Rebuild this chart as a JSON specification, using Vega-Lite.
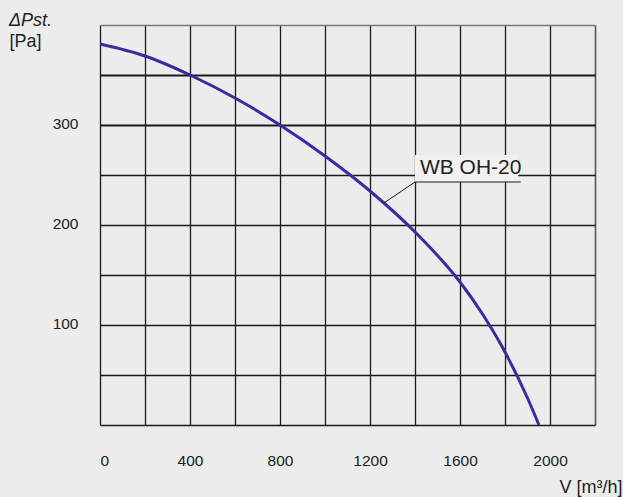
{
  "$schema": "https://vega.github.io/schema/vega-lite/v6.json",
  "autosize": {"type": "none"},
  "width": 495,
  "height": 400,
  "padding": {"left": 100, "top": 25, "right": 28, "bottom": 72},
  "background": "#ececec",
  "config": {
    "view": {"stroke": null},
    "font": "Liberation Sans",
    "axis": {"labelFont": "Liberation Sans", "titleFont": "Liberation Sans", "labelColor": "#222", "titleColor": "#222", "ticks": false, "domain": false}
  },
  "title": {
    "text": "ΔPst.",
    "anchor": "start",
    "frame": "group",
    "orient": "top",
    "dx": -91,
    "offset": -19,
    "baseline": "alphabetic",
    "font": "Liberation Sans",
    "fontSize": 18,
    "fontStyle": "italic",
    "fontWeight": "normal",
    "color": "#222"
  },
  "datasets": {
    "curve": [
      {"x": 0, "y": 381},
      {"x": 200, "y": 369},
      {"x": 400, "y": 350},
      {"x": 600, "y": 327},
      {"x": 800, "y": 300},
      {"x": 1000, "y": 269},
      {"x": 1200, "y": 234},
      {"x": 1400, "y": 193},
      {"x": 1600, "y": 143},
      {"x": 1700, "y": 111},
      {"x": 1800, "y": 73},
      {"x": 1900, "y": 27},
      {"x": 1951, "y": 0}
    ],
    "box": [{"x": 1400, "x2": 1859, "y": 243, "y2": 270}],
    "leader": [
      {"x": 1400, "x2": 1870, "y": 243, "y2": 243},
      {"x": 1400, "x2": 1262, "y": 243, "y2": 222}
    ],
    "label": [{"x": 1422, "y": 251, "text": "WB OH-20"}]
  },
  "encoding": {
    "x": {
      "field": "x",
      "type": "quantitative",
      "scale": {"domain": [0, 2200], "nice": false},
      "axis": {
        "values": [0, 200, 400, 600, 800, 1000, 1200, 1400, 1600, 1800, 2000, 2200],
        "format": "d",
        "labelExpr": "datum.value % 400 == 0 && datum.value <= 2000 ? datum.label : ''",
        "labelFontSize": 15.5,
        "labelPadding": 28,
        "labelAlign": {"condition": {"test": "datum.value == 0", "value": "left"}, "value": "center"},
        "grid": true,
        "gridColor": {"condition": {"test": "datum.value == 2200", "value": "#555"}, "value": "#1a1a1a"},
        "gridWidth": {"condition": {"test": "datum.value == 2200", "value": 1.6}, "value": 1.3},
        "gridOpacity": 1,
        "title": "V [m³/h]",
        "titleFontSize": 18,
        "titleFontWeight": "normal",
        "titleAlign": "right",
        "titleBaseline": "alphabetic",
        "titleX": 522,
        "titleY": 67
      }
    },
    "y": {
      "field": "y",
      "type": "quantitative",
      "scale": {"domain": [0, 400], "nice": false},
      "axis": {
        "values": [0, 50, 100, 150, 200, 250, 300, 350, 400],
        "labelExpr": "datum.value % 100 == 0 && datum.value > 0 && datum.value < 400 ? datum.label : ''",
        "labelFontSize": 15.5,
        "labelPadding": 22,
        "labelOffset": -2,
        "grid": true,
        "gridColor": {"condition": {"test": "datum.value == 400", "value": "#7a7a7a"}, "value": "#1a1a1a"},
        "gridWidth": {"condition": {"test": "datum.value == 300 || datum.value == 350", "value": 2}, "value": 1.3},
        "gridOpacity": 1,
        "title": "[Pa]",
        "titleFontSize": 18,
        "titleFontWeight": "normal",
        "titleAngle": 0,
        "titleAlign": "left",
        "titleBaseline": "alphabetic",
        "titleX": -91,
        "titleY": 21
      }
    }
  },
  "layer": [
    {
      "data": {"name": "curve"},
      "mark": {"type": "line", "color": "#3a2c9e", "strokeWidth": 3, "interpolate": "monotone"}
    },
    {
      "data": {"name": "box"},
      "mark": {"type": "rect", "color": "#f1f1f1", "opacity": 1},
      "encoding": {"x2": {"field": "x2"}, "y2": {"field": "y2"}}
    },
    {
      "data": {"name": "leader"},
      "mark": {"type": "rule", "color": "#1a1a1a", "strokeWidth": 1},
      "encoding": {"x2": {"field": "x2"}, "y2": {"field": "y2"}}
    },
    {
      "data": {"name": "label"},
      "mark": {"type": "text", "align": "left", "baseline": "alphabetic", "font": "Liberation Sans", "fontSize": 21, "color": "#222"},
      "encoding": {"text": {"field": "text"}}
    }
  ]
}
